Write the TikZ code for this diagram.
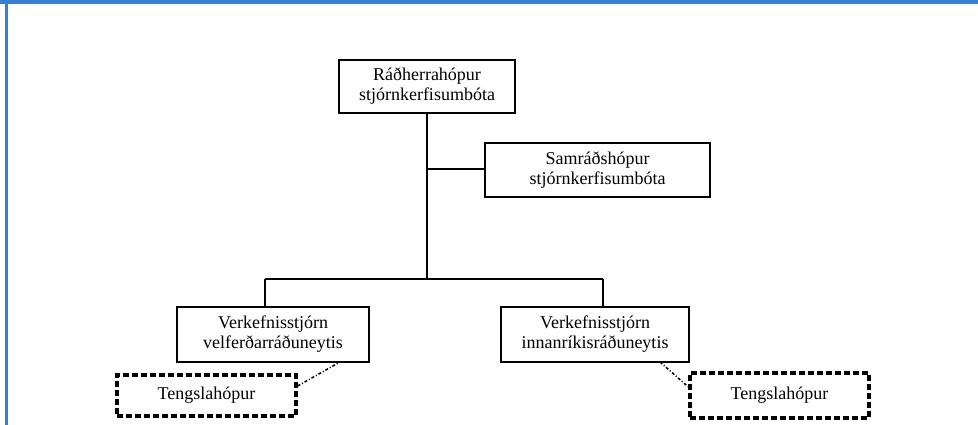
\documentclass[tikz,border=0pt]{standalone}
\usepackage{fontspec}
\setmainfont{Liberation Serif}
\definecolor{barblue}{RGB}{58,128,210}
\begin{document}
\begin{tikzpicture}[x=1pt,y=-1pt,
  box/.style={draw,line width=1.3pt,align=center,inner sep=0pt,font=\fontsize{18}{20}\selectfont},
  dbox/.style={draw,line width=3.2pt,dash pattern=on 6pt off 3pt,inner sep=0pt,font=\fontsize{18}{20}\selectfont},
  link/.style={line width=1.4pt},
  dlink/.style={line width=1.5pt,dash pattern=on 3pt off 2pt on 1pt off 2pt}]
\useasboundingbox (0,0) rectangle (978,425);
\fill[white] (0,0) rectangle (978,425);
\fill[barblue] (0,0) rectangle (978,4);
\fill[barblue] (5,0) rectangle (7.5,425);
\node[box,minimum width=176pt,minimum height=53pt] (top) at (427,86.5) {Ráðherrahópur\\stjórnkerfisumbóta};
\node[box,minimum width=225pt,minimum height=54pt] (samr) at (597.5,170) {Samráðshópur\\stjórnkerfisumbóta};
\node[box,minimum width=192pt,minimum height=55pt] (left) at (273,334.5) {Verkefnisstjórn\\velferðarráðuneytis};
\node[box,minimum width=188pt,minimum height=55pt] (right) at (595,334.5) {Verkefnisstjórn\\innanríkisráðuneytis};
\node[dbox,minimum width=179pt,minimum height=41pt] (tl) at (206.5,395.5) {Tengslahópur};
\node[dbox,minimum width=179pt,minimum height=45pt] (tr) at (779.5,395.5) {Tengslahópur};
\coordinate (jn) at (427,279);
\coordinate (js) at (427,169);
\coordinate (jl) at (265,279);
\coordinate (jr) at (603,279);
\draw[link] (top.south) -- (jn);
\draw[link] (js) -- (samr.west |- js);
\draw[link] (jl) -- (jr);
\draw[link] (jl) -- (jl |- left.north);
\draw[link] (jr) -- (jr |- right.north);
\coordinate (lb) at (340,362);
\coordinate (rb) at (660,362);
\draw[dlink] (tl.east |- 0,386) -- (lb);
\draw[dlink] (rb) -- (tr.west |- 0,387);
\end{tikzpicture}
\end{document}
